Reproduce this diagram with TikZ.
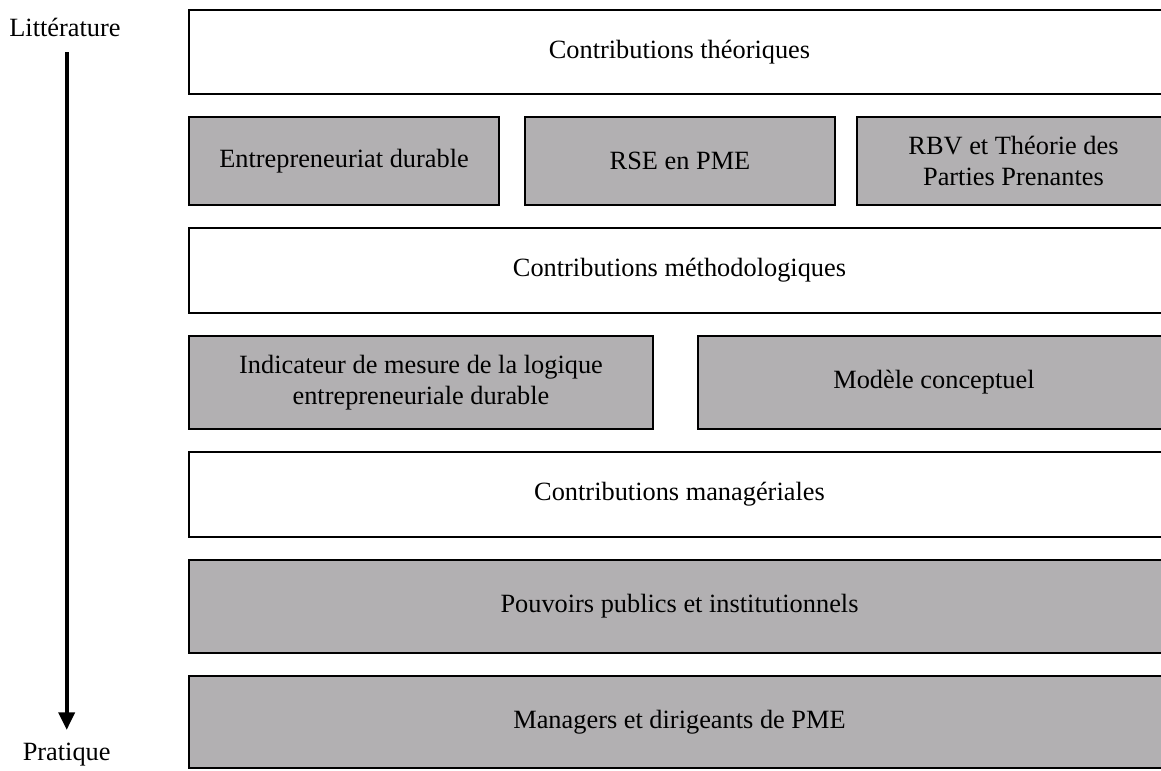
\documentclass[tikz,border=0pt]{standalone}
\usepackage{fontspec}
\setmainfont{Liberation Serif}
\usetikzlibrary{arrows.meta}
\definecolor{boxgray}{RGB}{178,176,178}

\begin{document}
\begin{tikzpicture}[x=0.02cm,y=-0.02cm,
  box/.style={draw=black,line width=1.1pt,align=center,inner sep=0pt,
    font=\fontsize{15}{17.5}\selectfont},
  whitebox/.style={box,fill=white},
  graybox/.style={box,fill=boxgray},
  axislabel/.style={font=\fontsize{15}{17.5}\selectfont,inner sep=0pt},
  flow/.style={line width=2.3pt,-{Triangle[length=10pt,width=9pt]}}]
\useasboundingbox (0,0) rectangle (1161,771);

\node[whitebox,minimum width=19.62cm,minimum height=1.68cm] (theo) at (679.5,52) {Contributions théoriques};

\node[graybox,minimum width=6.2cm,minimum height=1.76cm] (entr) at (344,161) {Entrepreneuriat durable};
\node[graybox,minimum width=6.2cm,minimum height=1.76cm] (rse) at (680,161) {RSE en PME};
\node[graybox,minimum width=6.26cm,minimum height=1.76cm] (rbv) at (1013.5,161) {RBV et Théorie des\\Parties Prenantes};

\node[whitebox,minimum width=19.62cm,minimum height=1.7cm] (meth) at (679.5,270.5) {Contributions méthodologiques};

\node[graybox,minimum width=9.28cm,minimum height=1.86cm] (indic) at (421,382.5) {Indicateur de mesure de la logique\\entrepreneuriale durable};
\node[graybox,minimum width=9.44cm,minimum height=1.86cm] (model) at (934,382.5) {Modèle conceptuel};

\node[whitebox,minimum width=19.62cm,minimum height=1.7cm] (mana) at (679.5,494.5) {Contributions managériales};

\node[graybox,minimum width=19.62cm,minimum height=1.86cm] (publ) at (679.5,606.5) {Pouvoirs publics et institutionnels};
\node[graybox,minimum width=19.62cm,minimum height=1.84cm] (dirig) at (679.5,722) {Managers et dirigeants de PME};

% axe litterature -> pratique
\node[axislabel] (lit) at (65,27) {Littérature};
\node[axislabel] (prat) at (66.7,755) {Pratique};
\coordinate (axtop) at (66.7,52);
\coordinate (axend) at (66.7,730);
\draw[flow] (axtop) -- (axend);

\end{tikzpicture}
\end{document}
